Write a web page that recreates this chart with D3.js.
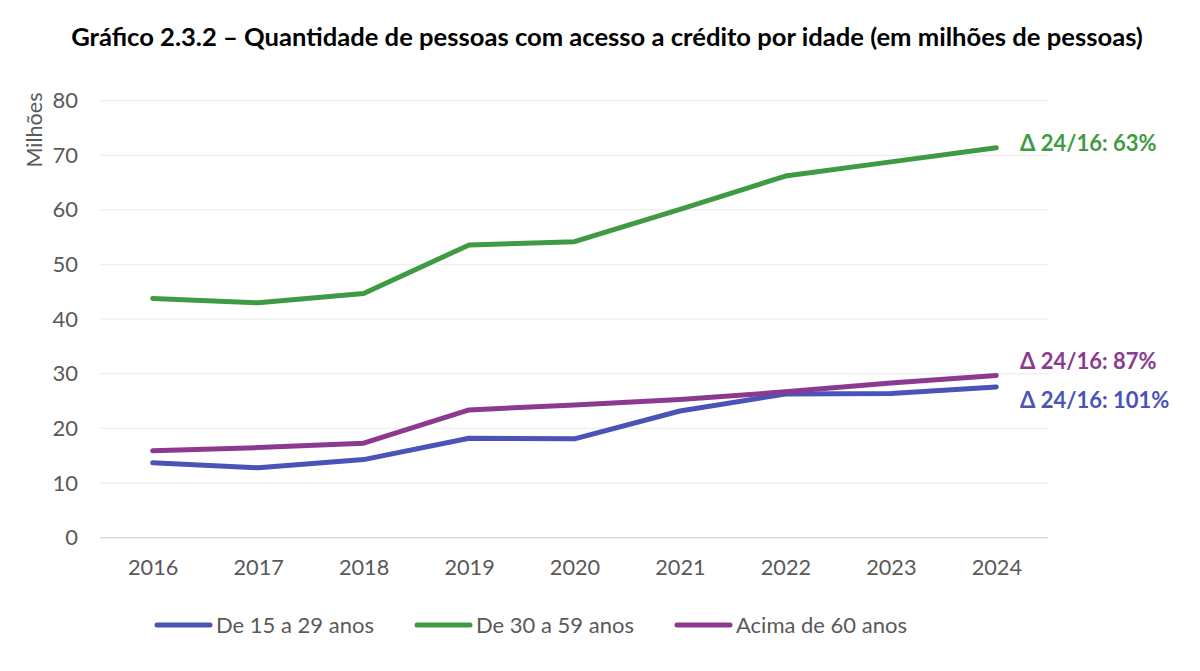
<!DOCTYPE html>
<html><head><meta charset="utf-8">
<script src="https://cdn.jsdelivr.net/npm/d3@7"></script>
<style>body{margin:0;background:#fff}svg{display:block}</style>
</head><body>
<svg id="c" width="1200" height="671"></svg>
<script>
const years = ["2016","2017","2018","2019","2020","2021","2022","2023","2024"];
const jovens = [13.7, 12.8, 14.3, 18.2, 18.1, 23.2, 26.3, 26.4, 27.6];
const adultos = [43.8, 43.0, 44.7, 53.6, 54.2, 60.1, 66.2, 68.8, 71.4];
const idosos = [15.9, 16.5, 17.3, 23.4, 24.3, 25.3, 26.7, 28.3, 29.7];
const seriesNames = ["De 15 a 29 anos", "De 30 a 59 anos", "Acima de 60 anos"];
const deltaLabels = ["Δ 24/16: 101%", "Δ 24/16: 63%", "Δ 24/16: 87%"];
const yTicks = [0,10,20,30,40,50,60,70,80];
const colors = ["#4a53b7", "#3f9b43", "#8b3a8f"];

const series = [jovens, adultos, idosos].map((v,i)=>({name:seriesNames[i], values:v, color:colors[i], delta:deltaLabels[i]}));

const svg = d3.select("#c");
const font = "Lato, 'Open Sans', sans-serif";
const x = d3.scalePoint().domain(years).range([152.7, 996.3]);
const y = d3.scaleLinear().domain([0,80]).range([537.7, 100.7]);

svg.append("text").attr("x",607).attr("y",46).attr("text-anchor","middle")
  .attr("font-family",font).attr("font-weight","bold").attr("font-size",25.6).attr("fill","#000")
  .text("Gráfico 2.3.2 – Quantidade de pessoas com acesso a crédito por idade (em milhões de pessoas)");

// grid
svg.append("g").selectAll("line").data(yTicks).join("line")
  .attr("x1",100).attr("x2",1048).attr("y1",d=>y(d)).attr("y2",d=>y(d))
  .attr("stroke",d=>d===0?"#d9d9d9":"#eeeeee").attr("stroke-width",d=>d===0?1.5:1.2);

// y axis
const ya = svg.append("g").attr("transform","translate(78,0)")
  .call(d3.axisLeft(y).tickValues(yTicks).tickSize(0).tickPadding(0));
ya.select(".domain").remove();
ya.selectAll("text").attr("font-family",font).attr("font-size",22).attr("fill","#595959");

svg.append("text").attr("transform","translate(42,130) rotate(-90)").attr("text-anchor","middle")
  .attr("font-family",font).attr("font-size",21.5).attr("fill","#595959").text("Milhões");

// x axis
const xa = svg.append("g").attr("transform","translate(0,556)")
  .call(d3.axisBottom(x).tickSize(0).tickPadding(4));
xa.select(".domain").remove();
xa.selectAll("text").attr("font-family",font).attr("font-size",21.7).attr("fill","#595959");

const line = d3.line().x((d,i)=>x(years[i])).y(d=>y(d));
svg.append("g").selectAll("path").data(series).join("path")
  .attr("d",d=>line(d.values)).attr("fill","none").attr("stroke",d=>d.color)
  .attr("stroke-width",5).attr("stroke-linecap","round").attr("stroke-linejoin","round");

// delta labels
const dy = [400.7, 143, 361.7];
svg.append("g").selectAll("text").data(series).join("text")
  .attr("x",1020).attr("y",(d,i)=>dy[i]).attr("dy","0.35em")
  .attr("font-family",font).attr("font-weight","bold").attr("font-size",22)
  .attr("fill",d=>d.color).text(d=>d.delta);

// legend
const lx = [155, 415, 675];
const lg = svg.append("g").selectAll("g").data(series).join("g")
  .attr("transform",(d,i)=>`translate(${lx[i]},625)`);
lg.append("line").attr("x1",2).attr("x2",55).attr("stroke",d=>d.color).attr("stroke-width",5).attr("stroke-linecap","round");
lg.append("text").attr("x",61).attr("dy","0.35em").attr("font-family",font).attr("font-size",22)
  .attr("fill","#595959").text(d=>d.name);
</script>
</body></html>
